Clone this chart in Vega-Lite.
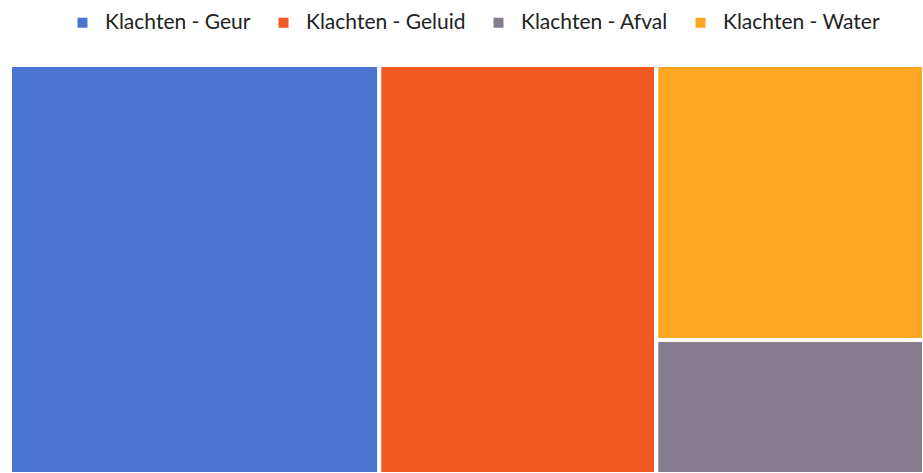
{
  "$schema": "https://vega.github.io/schema/vega-lite/v6.json",
  "width": 923,
  "height": 473,
  "autosize": {"type": "fit", "contains": "padding"},
  "padding": {"left": 8, "top": 63, "right": -3, "bottom": -3},
  "background": "white",
  "config": {"view": {"stroke": null}, "font": "Lato"},
  "data": {
    "values": [
      {"cat": "Klachten - Geur", "col": "A", "value": 40},
      {"cat": "Klachten - Geluid", "col": "B", "value": 30},
      {"cat": "Klachten - Water", "col": "C", "value": 19.5},
      {"cat": "Klachten - Afval", "col": "C", "value": 9.5}
    ]
  },
  "transform": [
    {"stack": "value", "groupby": [], "sort": [{"field": "col", "order": "ascending"}], "as": ["s0", "s1"]},
    {"joinaggregate": [{"op": "min", "field": "s0", "as": "x0"}, {"op": "max", "field": "s1", "as": "x1"}], "groupby": ["col"]},
    {"stack": "value", "groupby": ["col"], "offset": "normalize", "sort": [{"field": "cat", "order": "ascending"}], "as": ["y0", "y1"]}
  ],
  "mark": {"type": "rect", "stroke": "white", "strokeWidth": 4},
  "encoding": {
    "x": {"field": "x0", "type": "quantitative", "scale": {"domain": [0, 99], "nice": false, "zero": true}, "axis": null},
    "x2": {"field": "x1"},
    "y": {"field": "y0", "type": "quantitative", "scale": {"domain": [0, 1], "nice": false}, "axis": null},
    "y2": {"field": "y1"},
    "color": {
      "field": "cat",
      "type": "nominal",
      "scale": {
        "domain": ["Klachten - Geur", "Klachten - Geluid", "Klachten - Afval", "Klachten - Water"],
        "range": ["#4A74CF", "#F05A22", "#857D8E", "#FFA623"]
      },
      "legend": {
        "title": null,
        "orient": "none",
        "direction": "horizontal",
        "symbolType": "square",
        "symbolSize": 100,
        "symbolStrokeWidth": 0,
        "labelFontSize": 21,
        "labelColor": "#222222",
        "columnPadding": 22,
        "labelOffset": 12,
        "legendX": 62,
        "legendY": -53
      }
    }
  }
}
